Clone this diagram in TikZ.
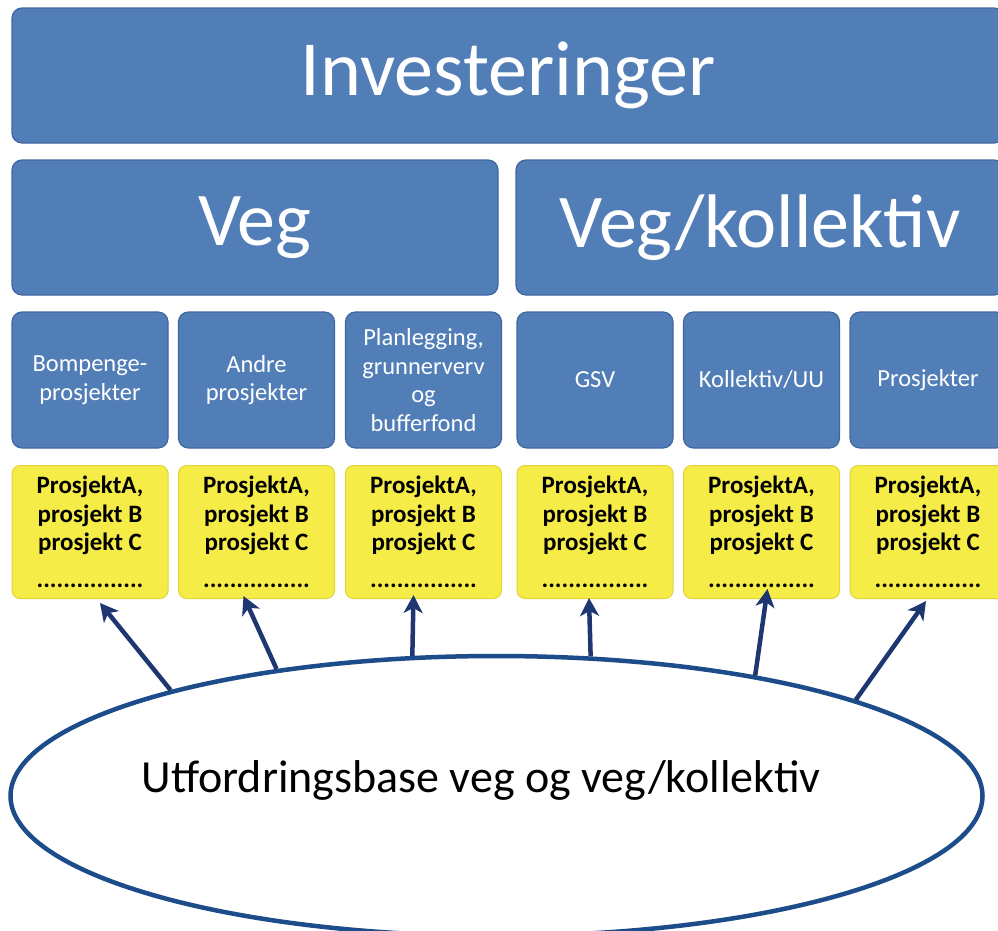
\documentclass[tikz,border=0pt]{standalone}
\usepackage{fontspec}
\setmainfont{Carlito}
\usepackage{tikz}
\usetikzlibrary{positioning,calc,shapes.geometric,arrows.meta}
\definecolor{boxblue}{RGB}{82,126,184}
\definecolor{boxedge}{RGB}{64,102,160}
\definecolor{boxyellow}{RGB}{246,236,72}
\definecolor{yellowedge}{RGB}{226,212,56}
\definecolor{arrowblue}{RGB}{30,55,112}
\definecolor{ringblue}{RGB}{28,76,138}
\tikzset{bluebox/.style = {rectangle,rounded corners=10pt,fill=boxblue,draw=boxedge,line width=1.2pt,text=white,inner sep=0pt,align=center},
         catbox/.style = {bluebox,minimum width=156pt,minimum height=136pt,font=\fontsize{24.5}{28.5}\selectfont},
         listbox/.style = {rectangle,rounded corners=8pt,fill=boxyellow,draw=yellowedge,line width=1pt,inner sep=0pt,align=center,minimum width=156pt,minimum height=133pt,font=\bfseries\fontsize{25}{28.5}\selectfont},
         flow/.style = {arrowblue,line width=4.5pt,-{Stealth[length=18pt,width=19pt,inset=5pt]}}}

\begin{document}
\begin{tikzpicture}[x=1pt,y=-1pt]
            \useasboundingbox (0,0) rectangle (998,930);
            \node[bluebox,minimum width=992pt,minimum height=135pt,font=\fontsize{78}{80}\selectfont] (top) at (508,75.5) {Investeringer};
            \node[bluebox,minimum width=486pt,minimum height=135pt,font=\fontsize{76}{80}\selectfont] (veg) at (255,227.5) {Veg};
            \node[bluebox,minimum width=488pt,minimum height=135pt,font=\fontsize{76}{80}\selectfont] (vegkoll) at (760,227.5) {Veg/kollektiv};
            \foreach \x/\lab [count=\i] in {90/{Bompenge-\\prosjekter}, 256.5/{Andre\\prosjekter},
                    423.5/{Planlegging,\\grunnerverv\\og\\bufferfond}, 595/GSV, 761.5/{Kollektiv/UU}, 928/Prosjekter}{
                \node[catbox] (cat\i) at (\x,380) {\lab};
                \node[listbox] (list\i) at (\x,532) {ProsjektA,\\prosjekt B\\prosjekt C\\[8pt]................};
            }
            \node[ellipse,draw=ringblue,fill=white,line width=4.5pt,minimum width=972pt,minimum height=280pt,inner sep=0pt] (base) at (496.5,796) {};
            \node[font=\fontsize{46}{50}\selectfont] (basetext) at (481,780) {Utfordringsbase veg og veg/kollektiv};
            \foreach \a/\dx/\dy [count=\i] in {162.6/10/4, 150.2/-13/-3, 121.4/-10/-4, 56.5/-6/-1, 25.1/6/-10, 15.4/-2/2}
                \draw[flow] (base.\a) -- ($(list\i.south)+(\dx,\dy)$);
        \end{tikzpicture}
\end{document}
